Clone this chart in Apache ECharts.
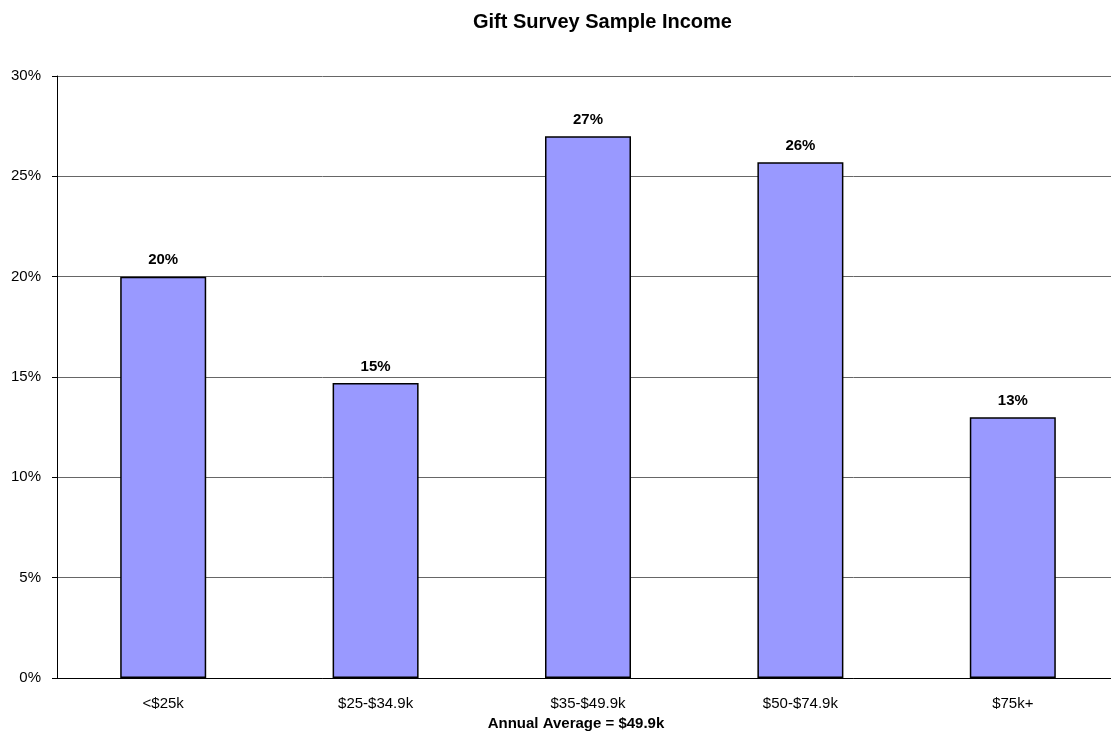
<!DOCTYPE html>
<html>
<head>
<meta charset="utf-8">
<script src="https://cdn.jsdelivr.net/npm/echarts@6/dist/echarts.min.js"></script>
<style>
  html, body { margin: 0; padding: 0; background: #fff; overflow: hidden; }
  #chart { width: 1122px; height: 742px; }
</style>
</head>
<body>
<div id="chart"></div>
<script>
const categories = ['<$25k', '$25-$34.9k', '$35-$49.9k', '$50-$74.9k', '$75k+'];
const shares = [20, 14.7, 27, 25.7, 13];
const yTicks = [0, 5, 10, 15, 20, 25, 30];

// plot area runs past the right edge in the reference, so the div is a bit wider than the window
const chart = echarts.init(document.getElementById('chart'), null, { renderer: 'canvas' });

chart.setOption({
  animation: false,
  textStyle: { fontFamily: 'Liberation Sans, Arial, sans-serif' },
  title: {
    text: 'Gift Survey Sample Income',
    left: 468,
    top: 7,
    textStyle: { fontSize: 20, fontWeight: 'bold', color: '#000' },
  },
  grid: {
    left: 57,
    top: 76,
    width: 1062,
    height: 602,
  },
  xAxis: {
    type: 'category',
    data: categories,
    name: 'Annual Average = $49.9k',
    nameLocation: 'middle',
    nameGap: 38,
    nameTextStyle: {
      fontSize: 15,
      fontWeight: 'bold',
      color: '#000',
      padding: [0, 24, 0, 0],
    },
    axisLine: { lineStyle: { color: '#000', width: 1 } },
    axisTick: { length: 5, lineStyle: { color: '#000' } },
    axisLabel: { fontSize: 15, color: '#000', margin: 18 },
  },
  yAxis: {
    type: 'value',
    min: yTicks[0],
    max: yTicks[yTicks.length - 1],
    interval: 5,
    axisLine: { show: true, lineStyle: { color: '#000', width: 1 } },
    axisTick: { show: true, length: 5, lineStyle: { color: '#000' } },
    axisLabel: { fontSize: 15, color: '#000', margin: 16, formatter: '{value}%' },
    splitLine: { lineStyle: { color: '#666', width: 1 } },
  },
  series: [
    {
      type: 'bar',
      data: shares,
      barWidth: 86,
      itemStyle: {
        color: '#9999FF',
        borderColor: '#000',
        borderWidth: 1.5,
      },
      label: {
        show: true,
        position: 'top',
        distance: 9,
        fontSize: 15,
        fontWeight: 'bold',
        color: '#000',
        formatter: (p) => Math.round(p.value) + '%',
      },
    },
  ],
});
</script>
</body>
</html>
